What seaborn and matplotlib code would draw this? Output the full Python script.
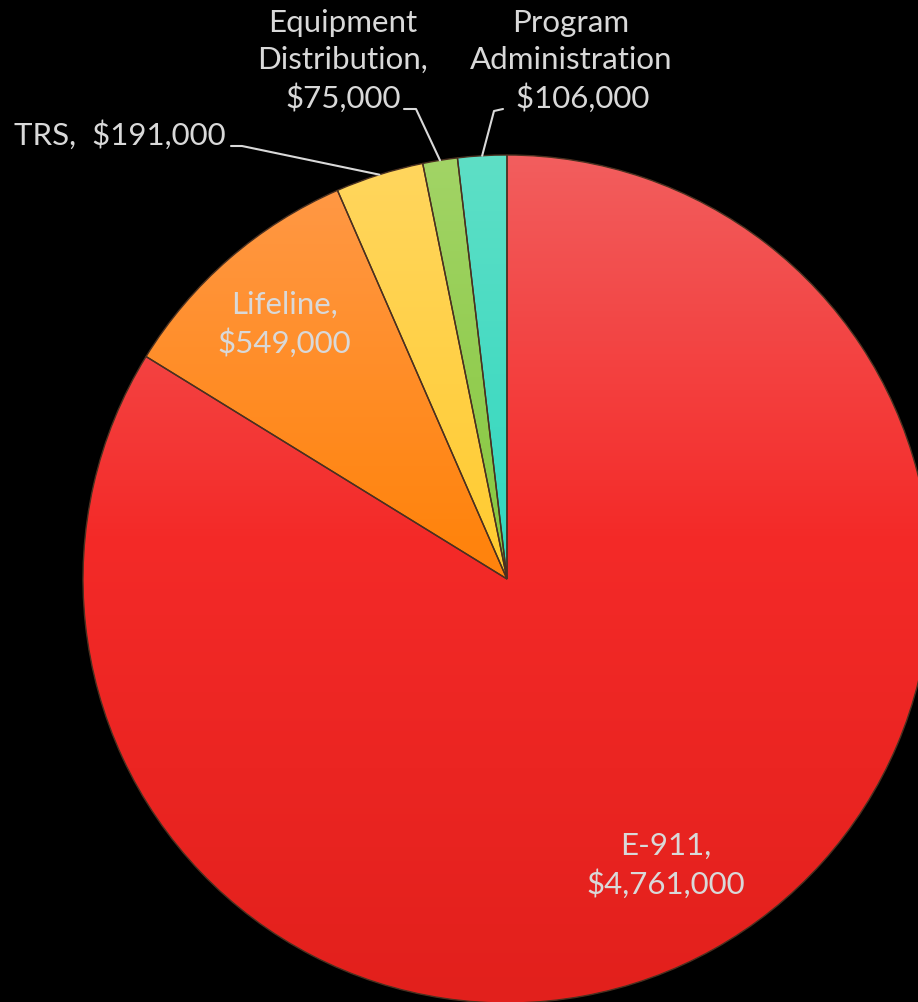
import numpy as np
import seaborn as sns
import matplotlib.pyplot as plt
from matplotlib.colors import LinearSegmentedColormap

# program budget (dollars)
programs = ['E-911', 'Lifeline', 'TRS', 'Equipment Distribution', 'Program Administration']
amounts = [4761000, 549000, 191000, 75000, 106000]
# bottom / middle / top shade of each slice
bottom_colors = ['#e2201c', '#ff7c08', '#ffc428', '#7cc238', '#28cfbd']
mid_colors = ['#f42a28', '#ff840e', '#ffcc34', '#88c842', '#34d8c0']
top_colors = ['#f25e5e', '#ff9a4a', '#ffd65e', '#a2d466', '#5edfc6']

sns.set_theme(style='dark', rc={'axes.facecolor': 'black', 'figure.facecolor': 'black'})
plt.rcParams['font.family'] = ['Lato', 'DejaVu Sans']
txt_col = '#d9d9d9'
fs = 22.5
lsp = 1.38

fig = plt.figure(figsize=(9.18, 10.03), dpi=100)
ax = fig.add_axes([0, 0, 1, 1])
ax.set_facecolor('black')

cx, cy, r = 507, 423, 424
wedges, _ = ax.pie(amounts, startangle=90, counterclock=False, center=(cx, cy),
                   radius=r, wedgeprops=dict(linewidth=1.0, edgecolor='#4a3020'))

grad = np.linspace(0, 1, 256).reshape(-1, 1)
for w, c0, c1, c2 in zip(wedges, bottom_colors, mid_colors, top_colors):
    cmap = LinearSegmentedColormap.from_list('g', [(0, c0), (0.55, c1), (1, c2)])
    im = ax.imshow(grad, extent=(cx - r, cx + r, cy - r, cy + r), origin='lower',
                   cmap=cmap, aspect='auto', zorder=1)
    im.set_clip_path(w)
    w.set_facecolor('none')
    w.set_zorder(2)

def mid_point(w, frac):
    a = np.deg2rad((w.theta1 + w.theta2) / 2)
    return cx + frac * r * np.cos(a), cy + frac * r * np.sin(a)

def money(v):
    return '${:,}'.format(v)

# inside labels
for i, frac in [(0, 0.77), (1, 0.80)]:
    x, y = mid_point(wedges[i], frac)
    ax.text(x, y, programs[i] + ',\n' + money(amounts[i]), ha='center', va='center',
            color=txt_col, fontsize=fs, linespacing=lsp, zorder=5)

# outside labels with leader lines
ax.text(120, 1003 - 135, 'TRS,  ' + money(amounts[2]), ha='center', va='center',
        color=txt_col, fontsize=fs, zorder=5)
ax.text(343, 1003 - 61, 'Equipment\nDistribution,\n' + money(amounts[3]), ha='center',
        va='center', color=txt_col, fontsize=fs, linespacing=lsp, zorder=5)
ax.text(571, 1003 - 61, 'Program\nAdministration\n   ' + money(amounts[4]), ha='center',
        va='center', color=txt_col, fontsize=fs, linespacing=lsp, zorder=5)

leaders = [(2, [(231, 1003 - 147), (242, 1003 - 147)]),
           (3, [(404, 1003 - 110), (416, 1003 - 110)]),
           (4, [(503, 1003 - 110), (494, 1003 - 112)])]
for i, pts in leaders:
    ex, ey = mid_point(wedges[i], 1.0)
    xs = [p[0] for p in pts] + [ex]
    ys = [p[1] for p in pts] + [ey]
    ax.plot(xs, ys, color=txt_col, lw=1.5, zorder=5)

ax.set_xlim(0, 918)
ax.set_ylim(0, 1003)
ax.set_aspect('equal')
ax.axis('off')
fig.savefig('out.png', dpi=100, facecolor='black')
